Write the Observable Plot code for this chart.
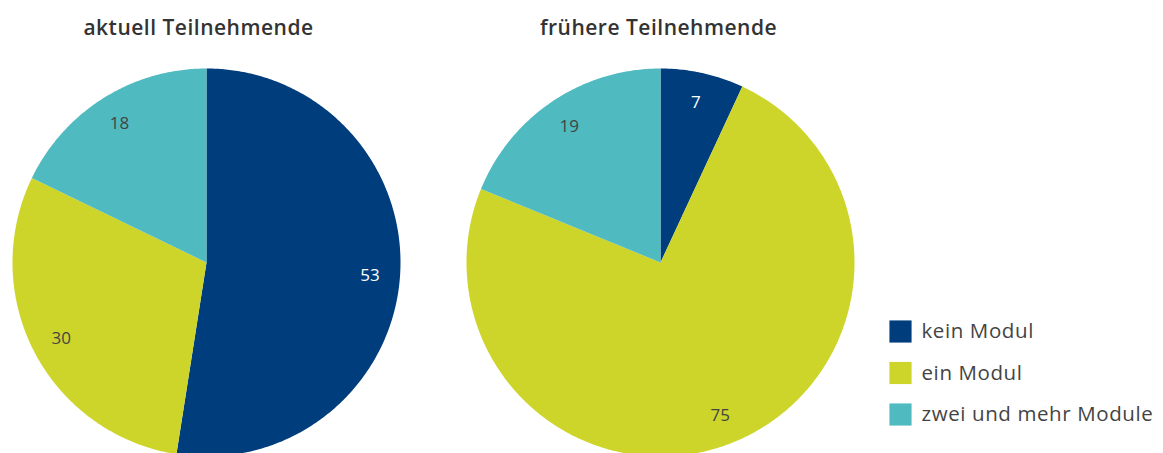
<!DOCTYPE html>
<html>
<head>
<meta charset="utf-8">
<script src="https://cdn.jsdelivr.net/npm/d3@7"></script>
<script src="https://cdn.jsdelivr.net/npm/@observablehq/plot@0.6"></script>
<style>
  html, body { margin: 0; padding: 0; background: #fff; }
  svg { display: block; }
</style>
</head>
<body>
<div id="chart"></div>
<script>
// --- data ---
const categories = ["kein Modul", "ein Modul", "zwei und mehr Module"];
const groups = ["aktuell Teilnehmende", "frühere Teilnehmende"];
const aktuell = [53, 30, 18];
const frueher = [7, 75, 19];
const colors = ["#003d7c", "#cdd52a", "#4fbac0"];

// --- layout ---
const W = 1163, H = 453;
const centers = [{cx: 206, cy: 262}, {cx: 660, cy: 262}];
const titleX = [198, 658];
const R = 194;
const labelR = 0.845 * R;
const font = "'Open Sans', sans-serif";

const seriesValues = [aktuell, frueher];
const pie = d3.pie().sort(null).value(d => d);

const polys = [];
const labels = [];
seriesValues.forEach((vals, gi) => {
  const {cx, cy} = centers[gi];
  const arcs = pie(vals);
  arcs.forEach((a, ci) => {
    const id = `${gi}-${ci}`;
    polys.push({id, cat: categories[ci], x: cx, y: cy});
    const n = Math.max(2, Math.ceil((a.endAngle - a.startAngle) / 0.01));
    for (let k = 0; k <= n; k++) {
      const t = a.startAngle + (a.endAngle - a.startAngle) * k / n;
      polys.push({id, cat: categories[ci], x: cx + R * Math.sin(t), y: cy - R * Math.cos(t)});
    }
    polys.push({id, cat: categories[ci], x: cx, y: cy});
    const m = (a.startAngle + a.endAngle) / 2;
    labels.push({
      value: vals[ci],
      x: cx + labelR * Math.sin(m),
      y: cy - labelR * Math.cos(m),
      color: ci === 0 ? "#ffffff" : "#444444"
    });
  });
});

const titles = groups.map((g, i) => ({title: g, x: titleX[i], y: 28}));
const legend = categories.map((c, i) => ({cat: c, x: 900, y: 331 + i * 41.5}));

const plot = Plot.plot({
  width: W,
  height: H,
  margin: 0,
  style: {fontFamily: font, background: "white"},
  x: {domain: [0, W], range: [0, W], axis: null},
  y: {domain: [0, H], range: [0, H], axis: null},
  color: {domain: categories, range: colors},
  marks: [
    Plot.line(polys, {x: "x", y: "y", z: "id", fill: "cat", stroke: "none", curve: "linear"}),
    Plot.text(labels, {x: "x", y: "y", text: d => String(d.value), fill: d => d.color, fontSize: 17}),
    Plot.text(titles, {x: "x", y: "y", text: "title", fontWeight: 600, fontSize: 21, fill: "#333333"}),
    Plot.dot(legend, {x: "x", y: "y", symbol: "square", r: 12.5, fill: "cat", stroke: "none"}),
    Plot.text(legend, {x: d => d.x + 21, y: "y", text: "cat", textAnchor: "start", fontSize: 20.5, fill: "#444444"})
  ]
});
// fine typographic spacing to match the reference font's wider setting
d3.select(plot).selectAll("text").each(function() {
  const t = this.textContent;
  if (groups.includes(t)) this.setAttribute("letter-spacing", "0.5");
  else if (categories.includes(t)) this.setAttribute("letter-spacing", "0.6");
});
document.getElementById("chart").appendChild(plot);
</script>
</body>
</html>
